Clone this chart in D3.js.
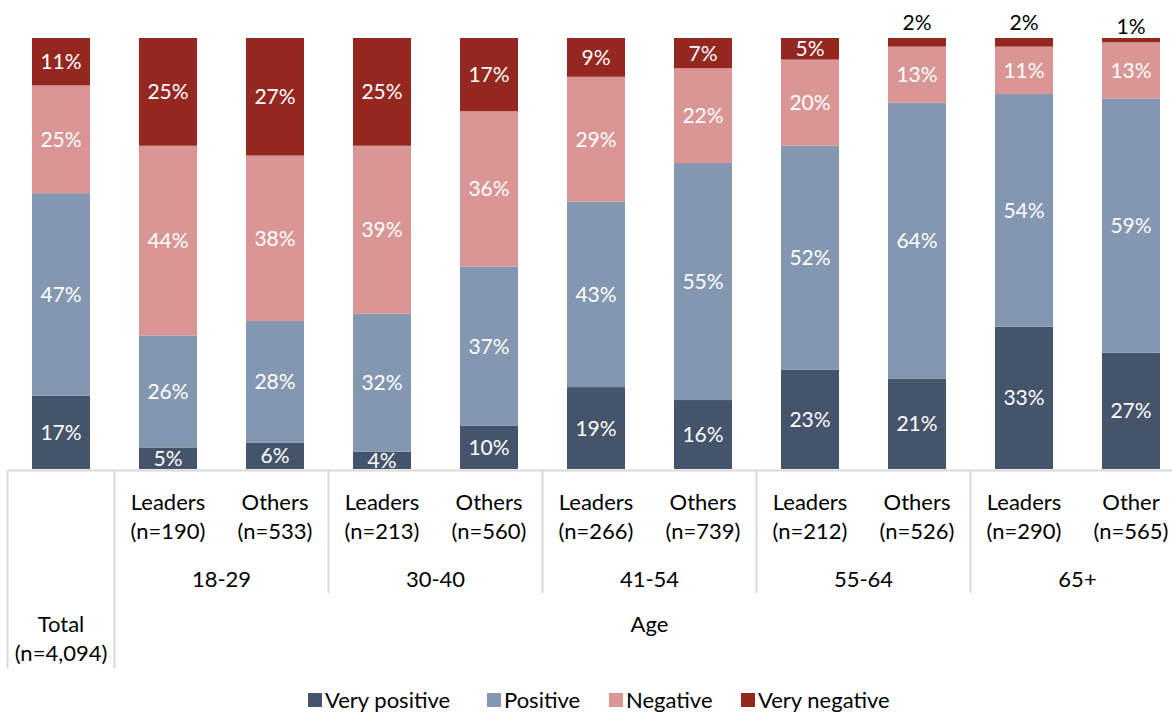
<!DOCTYPE html>
<html>
<head>
<meta charset="utf-8">
<script src="https://cdn.jsdelivr.net/npm/d3@7"></script>
<style>
  html, body { margin: 0; padding: 0; background: #fff; }
  svg { display: block; font-family: Lato, "Open Sans", sans-serif; }
</style>
</head>
<body>
<svg id="chart" width="1172" height="715"></svg>
<script>
// Column keys, one per bar
const columns = ["total", "1829L", "1829O", "3040L", "3040O", "4154L", "4154O", "5564L", "5564O", "65L", "65O"];
// First line of each column label
const subLabels = ["", "Leaders", "Others", "Leaders", "Others", "Leaders", "Others", "Leaders", "Others", "Leaders", "Other"];
// Second line (sample size) of each column label
const sampleSizes = ["", "(n=190)", "(n=533)", "(n=213)", "(n=560)", "(n=266)", "(n=739)", "(n=212)", "(n=526)", "(n=290)", "(n=565)"];
// Age groups and the columns they span
const ageGroups = ["18-29", "30-40", "41-54", "55-64", "65+"];
const ageGroupStart = ["1829L", "3040L", "4154L", "5564L", "65L"];
const ageGroupEnd = ["1829O", "3040O", "4154O", "5564O", "65O"];

// Series (percent of respondents)
const seriesNames = ["Very positive", "Positive", "Negative", "Very negative"];
const seriesColors = ["#44546a", "#8497b0", "#da9694", "#942720"];
const veryPositive = [17, 5, 6, 4, 10, 19, 16, 23, 21, 33, 27];
const positive     = [47, 26, 28, 32, 37, 43, 55, 52, 64, 54, 59];
const negative     = [25, 44, 38, 39, 36, 29, 22, 20, 13, 11, 13];
const veryNegative = [11, 25, 27, 25, 17, 9, 7, 5, 2, 2, 1];

const seriesKeys = ["vp", "p", "n", "vn"];
const rows = columns.map((c, i) => ({
  key: c, vp: veryPositive[i], p: positive[i], n: negative[i], vn: veryNegative[i]
}));

const svg = d3.select("#chart");

const plotTop = 38, plotBottom = 469;
const x = d3.scaleBand()
  .domain(columns)
  .range([7.5, 1184.5])
  .paddingInner(0.458)
  .paddingOuter(0.229);
const y = d3.scaleLinear().domain([0, 1]).range([plotBottom, plotTop]);
const color = d3.scaleOrdinal().domain(seriesKeys).range(seriesColors);

const stacked = d3.stack().keys(seriesKeys).offset(d3.stackOffsetExpand)(rows);

// Stacked bar segments
const layers = svg.append("g").selectAll("g")
  .data(stacked).join("g")
  .attr("fill", d => color(d.key));

layers.selectAll("rect")
  .data(d => d.map(s => ({ s, key: d.key })))
  .join("rect")
  .attr("x", d => x(d.s.data.key))
  .attr("width", x.bandwidth())
  .attr("y", d => y(d.s[1]))
  .attr("height", d => y(d.s[0]) - y(d.s[1]));

// Value labels: inside the segment, or above the bar for very thin top segments
const labels = svg.append("g").attr("font-size", 21);
stacked.forEach(layer => {
  layer.forEach(s => {
    const v = s.data[layer.key];
    const cx = x(s.data.key) + x.bandwidth() / 2;
    const outside = v <= 2;
    const cy = outside ? y(s[1]) - 16 + (v === 1 ? 4 : 0) : (y(s[0]) + y(s[1])) / 2;
    labels.append("text")
      .attr("x", cx)
      .attr("y", cy)
      .attr("dy", "0.36em")
      .attr("text-anchor", "middle")
      .attr("fill", outside ? "#000" : "#fff")
      .text(v + "%");
  });
});

// Category axis drawn as a table of labels with light grid lines
const gridColor = "#d9d9d9";
const axisG = svg.append("g").attr("stroke", gridColor).attr("stroke-width", 2);
const step = x.step();
const edgeLeft = c => x(c) - (step - x.bandwidth()) / 2;
const edgeRight = c => x(c) + x.bandwidth() + (step - x.bandwidth()) / 2;

axisG.append("line")
  .attr("x1", edgeLeft("total")).attr("x2", 1172)
  .attr("y1", plotBottom + 1.5).attr("y2", plotBottom + 1.5);
// outer lines of the Total column and the Age block
[edgeLeft("total"), edgeRight("total")].forEach(px => {
  axisG.append("line").attr("x1", px).attr("x2", px).attr("y1", plotBottom + 1.5).attr("y2", 668);
});
// separators between age groups
ageGroupEnd.slice(0, -1).forEach(c => {
  const px = edgeRight(c);
  axisG.append("line").attr("x1", px).attr("x2", px).attr("y1", plotBottom + 1.5).attr("y2", 593);
});

const xAxis = d3.axisBottom(x).tickSize(0).tickFormat((d, i) => subLabels[i]);
const tickG = svg.append("g")
  .attr("transform", `translate(0,${plotBottom})`)
  .call(xAxis);
tickG.select(".domain").remove();
tickG.selectAll(".tick text")
  .attr("font-family", "Lato, sans-serif")
  .attr("font-size", 22)
  .attr("fill", "#000")
  .attr("y", 0)
  .attr("dy", 0)
  .each(function (d, i) {
    const t = d3.select(this);
    t.text(null);
    t.append("tspan").attr("x", 0).attr("y", 33.5).attr("dy", "0.36em").text(subLabels[i]);
    t.append("tspan").attr("x", 0).attr("y", 62.5).attr("dy", "0.36em").text(sampleSizes[i]);
  });

const textG = svg.append("g").attr("font-size", 22).attr("fill", "#000").attr("text-anchor", "middle");
ageGroups.forEach((g, i) => {
  const cx = (edgeLeft(ageGroupStart[i]) + edgeRight(ageGroupEnd[i])) / 2;
  textG.append("text").attr("x", cx).attr("y", 579).attr("dy", "0.36em").text(g);
});
const totalCx = x("total") + x.bandwidth() / 2;
textG.append("text").attr("x", totalCx).attr("y", 624).attr("dy", "0.36em").text("Total");
textG.append("text").attr("x", totalCx).attr("y", 653).attr("dy", "0.36em").text("(n=4,094)");
textG.append("text")
  .attr("x", (edgeLeft("1829L") + edgeRight("65O")) / 2)
  .attr("y", 624).attr("dy", "0.36em").text("Age");

// Legend
const legendX = [308, 487, 609, 741];
const legend = svg.append("g").attr("transform", "translate(0,700)");
seriesKeys.forEach((k, i) => {
  const g = legend.append("g").attr("transform", `translate(${legendX[i]},0)`);
  g.append("rect").attr("x", 0).attr("y", -7).attr("width", 14).attr("height", 14).attr("fill", color(k));
  g.append("text").attr("x", 17).attr("dy", "0.36em").attr("font-size", 22).attr("fill", "#000").text(seriesNames[i]);
});
</script>
</body>
</html>
